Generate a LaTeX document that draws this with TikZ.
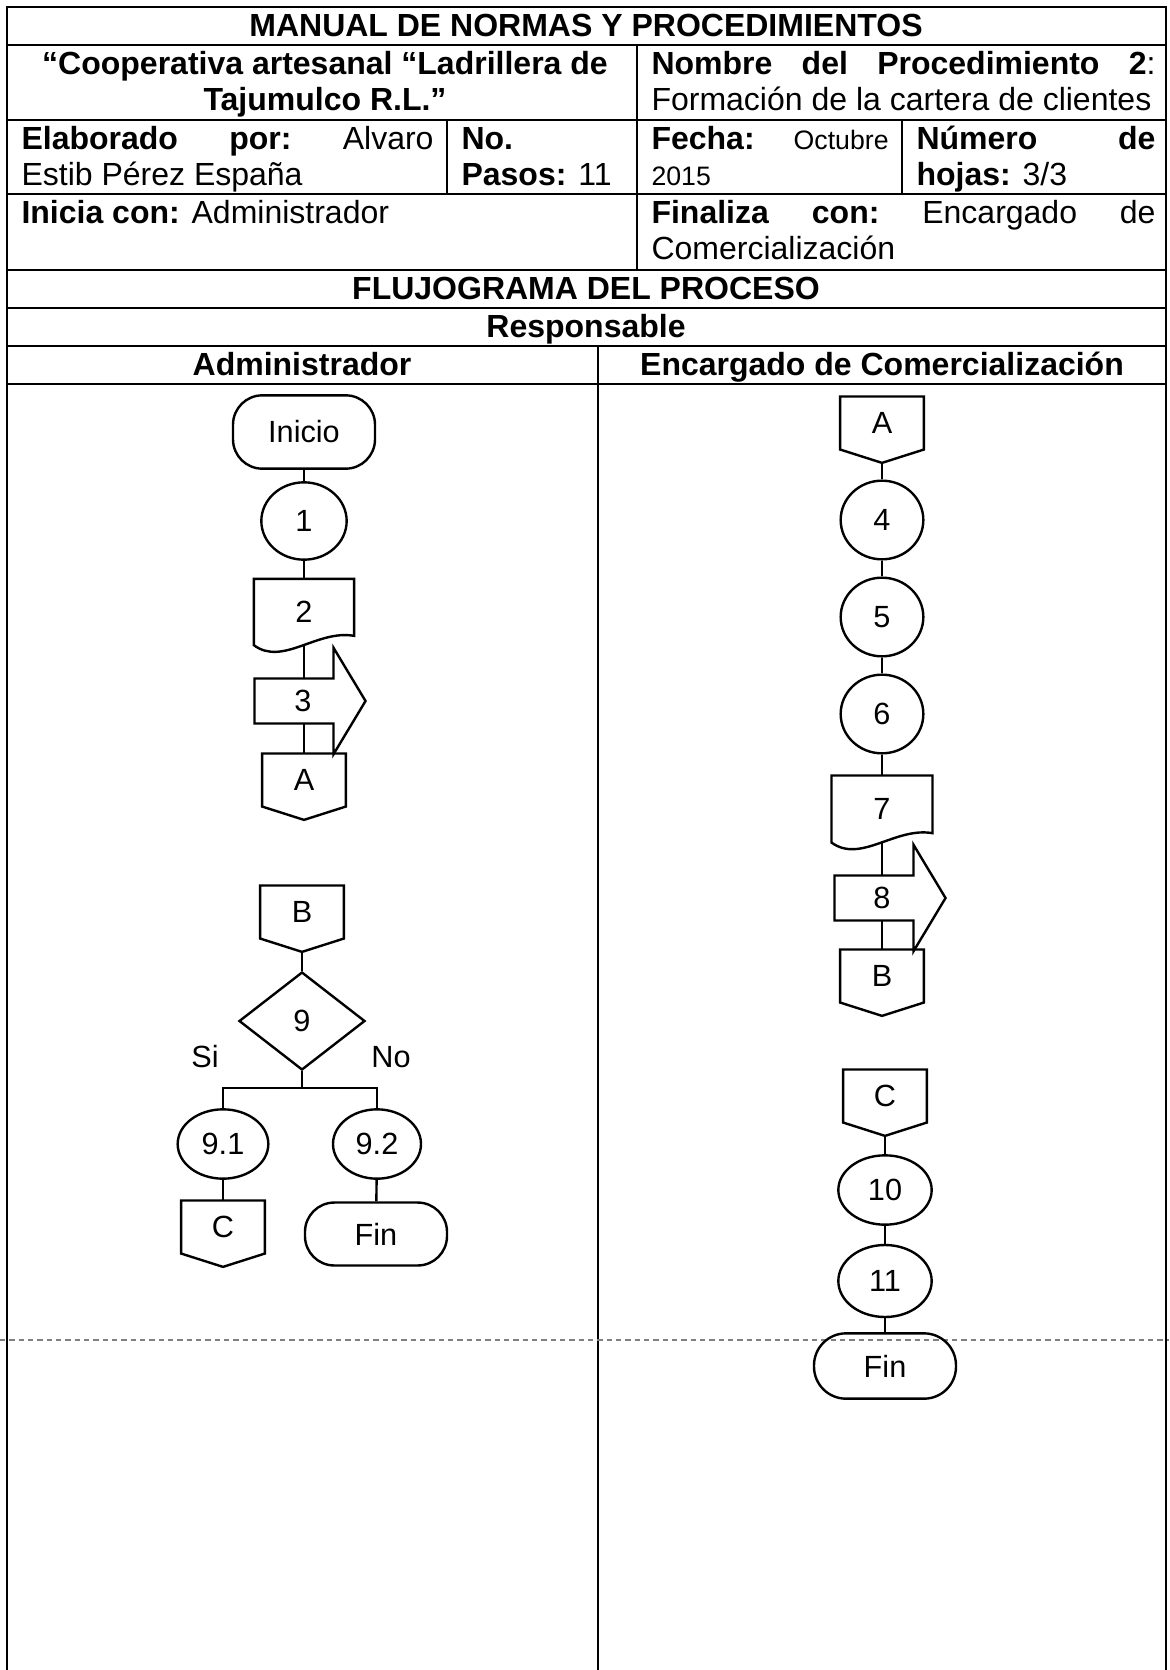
\documentclass[tikz,border=0pt]{standalone}
\usepackage{fontspec}
\setmainfont{Liberation Sans}
\usetikzlibrary{shapes.geometric}
\newcommand{\flujo}{\fontsize{11.5}{13}\selectfont}
\newcommand{\chica}{\fontsize{10}{13.5}\selectfont}
% conector de pagina (pentagono hacia abajo)
\newcommand{\conector}[1]{\draw[forma] (#1.north west) -- (#1.north east) -- (#1.south east) -- ([yshift=-5pt]#1.south) coordinate (#1p) -- (#1.south west) -- cycle;}
% documento con borde ondulado
\newcommand{\documento}[1]{\draw[forma] (#1.south west) -- (#1.north west) -- (#1.north east) -- ([yshift=3.5pt]#1.south east) .. controls ([xshift=5pt,yshift=6pt]#1.south) and ([xshift=-8pt,yshift=-8pt]#1.south) .. (#1.south west) -- cycle;}
% flecha de traslado
\newcommand{\flecha}[1]{\draw[forma] (#1.south west) -- (#1.north west) -- (#1.north east) -- ([yshift=11.5pt]#1.north east) -- ([xshift=12pt]#1.east) -- ([yshift=-11.5pt]#1.south east) -- (#1.south east) -- cycle;}
\tikzset{
  tabla/.style={line width=0.8pt},
  forma/.style={line width=0.9pt},
  celda/.style={inner sep=0pt, anchor=base west, font=\fontsize{12}{13.5}\selectfont},
  cabeza/.style={inner sep=0pt, anchor=base, font=\bfseries\fontsize{12}{13.5}\selectfont},
  paso/.style={ellipse, draw, forma, inner sep=0pt, font=\flujo},
  terminal/.style={rectangle, rounded corners=11pt, draw, forma, inner sep=0pt, minimum width=53.25pt, minimum height=24.5pt, font=\flujo},
  decision/.style={diamond, draw, forma, inner sep=0pt, minimum width=47.25pt, minimum height=36.75pt, font=\flujo},
  caja/.style={rectangle, inner sep=0pt, font=\flujo},
  doc/.style={caja, minimum width=37.2pt, minimum height=24.5pt},
  traslado/.style={caja, minimum width=29.25pt, minimum height=16.5pt},
  pagina/.style={caja, minimum width=31pt, minimum height=19.5pt},
  etiqueta/.style={inner sep=0pt, font=\flujo}
}
\begin{document}
\begin{tikzpicture}[x=0.375pt,y=-0.375pt]
  \useasboundingbox (0,0) rectangle (1169,1670);
  % cuadro
  \draw[tabla] (7,1670) -- (7,7) -- (1166,7) -- (1166,1670);
  \foreach \y in {45,120,194,270,308,346,384}
    \draw[tabla] (7,\y) -- (1166,\y);
  \draw[tabla] (637,45) -- (637,270);
  \draw[tabla] (447,120) -- (447,194);
  \draw[tabla] (902,120) -- (902,194);
  \draw[tabla] (598,346) -- (598,1670);
  \draw[gray, line width=0.4pt, dash pattern=on 2pt off 1.5pt] (0,1340) -- (1169,1340);

  % encabezado
  \node[cabeza] (titulo) at (586,36) {MANUAL DE NORMAS Y PROCEDIMIENTOS};
  \node[cabeza] (coop1) at (325,74) {“Cooperativa artesanal “Ladrillera de};
  \node[cabeza] (coop2) at (325,110) {Tajumulco R.L.”};
  \node[celda, text width=189pt] (nom1) at (651,74) {\textbf{Nombre}\hfill\textbf{del}\hfill\textbf{Procedimiento}\hfill\textbf{2}:};
  \node[celda] (nom2) at (651,110) {Formación de la cartera de clientes};
  \node[celda, text width=154.5pt] (elab1) at (21,149) {\textbf{Elaborado}\hfill\textbf{por:}\hfill Alvaro};
  \node[celda] (elab2) at (21,185) {Estib Pérez España};
  \node[celda] (pasos1) at (461,149) {\textbf{No.}};
  \node[celda] (pasos2) at (461,185) {\textbf{Pasos:} 11};
  \node[celda, text width=88.9pt] (fecha1) at (651,149) {\textbf{Fecha:}\hfill{\chica Octubre}};
  \node[celda] (fecha2) at (651,185) {\chica 2015};
  \node[celda, text width=89.6pt] (hojas1) at (916,149) {\textbf{Número}\hfill\textbf{de}};
  \node[celda] (hojas2) at (916,185) {\textbf{hojas:} 3/3};
  \node[celda] (inicia) at (21,223) {\textbf{Inicia con:} Administrador};
  \node[celda, text width=189pt] (fin1t) at (651,223) {\textbf{Finaliza}\hfill\textbf{con:}\hfill Encargado\hfill de};
  \node[celda] (fin2t) at (651,259) {Comercialización};
  \node[cabeza] (flujograma) at (586,299) {FLUJOGRAMA DEL PROCESO};
  \node[cabeza] (responsable) at (586,337) {Responsable};
  \node[cabeza] (admin) at (302,375) {Administrador};
  \node[cabeza] (encargado) at (882,375) {Encargado de Comercialización};

  % Administrador
  \node[terminal, minimum height=27.5pt] (ini) at (304,432) {Inicio};
  \node[paso, minimum width=32pt, minimum height=29pt] (p1) at (304,521) {1};
  \node[doc] (p2) at (304,612) {2};
  \documento{p2}
  \node[traslado] (p3) at (294,701) {\hspace*{6.75pt}3};
  \flecha{p3}
  \node[pagina] (conA1) at (304,780) {A};
  \conector{conA1}
  \draw[forma] (ini) -- (p1);
  \draw[forma] (p1) -- (p2);
  \draw[forma] (p2.south) -- (p2.south |- p3.north);
  \draw[forma] (p2.south |- p3.south) -- (conA1.north);

  \node[pagina] (conB1) at (302,912) {B};
  \conector{conB1}
  \node[decision] (p9) at (302,1021) {9};
  \draw[forma] (conB1p) -- (p9.north);
  \draw[forma] (p9.south) -- ([yshift=-6.4pt]p9.south) coordinate (rama);
  \node[etiqueta] (si) at (205,1057) {Si};
  \node[etiqueta] (no) at (391,1057) {No};
  \node[paso, minimum width=34pt, minimum height=26pt] (p91) at (223,1144) {9.1};
  \node[paso, minimum width=33pt, minimum height=26pt] (p92) at (377,1144) {9.2};
  \draw[forma] (p91.north) |- (rama) -| (p92.north);
  \node[pagina] (conC1) at (223,1227) {C};
  \conector{conC1}
  \node[terminal, minimum height=23.6pt] (fin1) at (376,1234) {Fin};
  \draw[forma] (p91) -- (conC1);
  \draw[forma] (p92) -- (fin1);

  % Encargado de Comercializacion
  \node[pagina] (conA2) at (882,423) {A};
  \conector{conA2}
  \node[paso, minimum width=31pt, minimum height=29.5pt] (p4) at (882,520) {4};
  \node[paso, minimum width=31pt, minimum height=29.5pt] (p5) at (882,617) {5};
  \node[paso, minimum width=31pt, minimum height=29.5pt] (p6) at (882,714) {6};
  \node[doc, minimum width=37.5pt, minimum height=24.75pt] (p7) at (882,809) {7};
  \documento{p7}
  \node[traslado] (p8) at (874,898) {\hspace*{6pt}8};
  \flecha{p8}
  \node[pagina] (conB2) at (882,976) {B};
  \conector{conB2}
  \draw[forma] (conA2p) -- (p4);
  \draw[forma] (p4) -- (p5);
  \draw[forma] (p5) -- (p6);
  \draw[forma] (p6) -- (p7);
  \draw[forma] (p7.south) -- (p7.south |- p8.north);
  \draw[forma] (p7.south |- p8.south) -- (conB2.north);

  \node[pagina] (conC2) at (885,1096) {C};
  \conector{conC2}
  \node[paso, minimum width=35pt, minimum height=26pt] (p10) at (885,1190) {10};
  \node[paso, minimum width=35pt, minimum height=27pt] (p11) at (885,1281) {11};
  \node[terminal, minimum height=24.5pt, rounded corners=12pt] (fin2) at (885,1366) {Fin};
  \draw[forma] (conC2p) -- (p10);
  \draw[forma] (p10) -- (p11);
  \draw[forma] (p11) -- (fin2);
\end{tikzpicture}
\end{document}
